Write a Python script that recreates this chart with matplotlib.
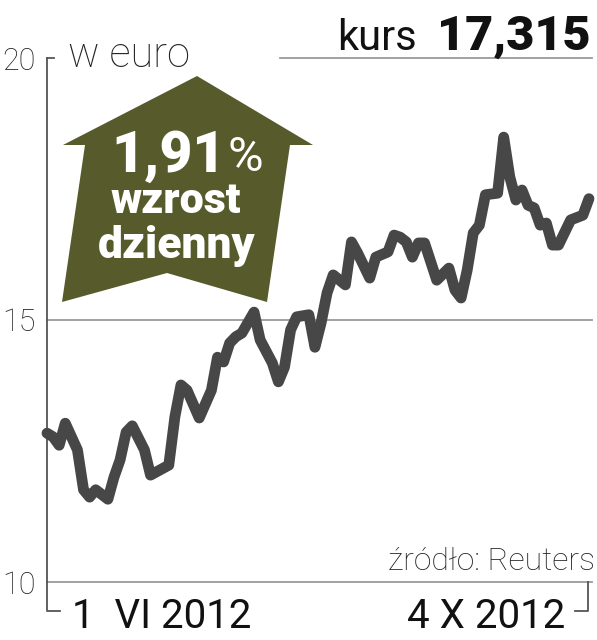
import matplotlib
matplotlib.use("Agg")
import matplotlib.pyplot as plt
from matplotlib import font_manager
from matplotlib.patches import Polygon

# notowania (dni sesyjne od 1 VI 2012 do 4 X 2012)
dni = [0, 1, 2, 3, 5, 6, 7, 8, 10, 11, 12, 13, 14, 16, 17, 20, 21, 22, 23, 25,
       27, 28, 29, 30, 31, 32, 34, 35, 37, 38, 39, 40, 41, 43, 44, 45, 46, 47,
       49, 50, 51, 53, 54, 56, 57, 58, 59, 60, 61, 62, 64, 66, 67, 68, 69, 70,
       71, 72, 74, 75, 76, 77, 78, 79, 80, 81, 82, 83, 84, 86, 88, 89]
kurs = [12.84, 12.77, 12.61, 13.03, 12.52, 11.76, 11.62, 11.76, 11.58, 12.00,
        12.33, 12.86, 12.98, 12.52, 12.04, 12.23, 13.15, 13.76, 13.66, 13.13,
        13.66, 14.29, 14.20, 14.56, 14.68, 14.75, 15.15, 14.62, 14.18, 13.82,
        14.10, 14.81, 15.06, 15.10, 14.48, 14.94, 15.52, 15.86, 15.67, 16.49,
        16.28, 15.80, 16.20, 16.30, 16.62, 16.58, 16.49, 16.20, 16.47, 16.47,
        15.76, 15.99, 15.57, 15.42, 15.95, 16.66, 16.81, 17.39, 17.42, 18.49,
        17.73, 17.29, 17.48, 17.19, 17.14, 16.81, 16.85, 16.43, 16.43, 16.91,
        17.00, 17.315]
y_ticks = [10, 15, 20]
y_labels = ["10", "15", "20"]
data_od = "1  VI 2012"
data_do = "4 X 2012"
kurs_txt = "17,315"
zmiana_txt = "1,91"

W, H = 597, 640
installed = {f.name for f in font_manager.fontManager.ttflist}


def pick(*names):
    for n in names:
        if n in installed:
            return n
    return "DejaVu Sans"


f_light = pick("Roboto", "Lato", "Open Sans")
f_bold = pick("Liberation Sans Narrow", "Roboto", "DejaVu Sans")


def px(x, y):
    return x / W, 1 - y / H


fig = plt.figure(figsize=(W / 100, H / 100), dpi=100)
ax = fig.add_axes([47 / W, 58 / H, 545 / W, 524 / H])
ax.set_xlim(0, 89.5)
ax.set_ylim(10, 20)

for s in ["top", "right", "bottom"]:
    ax.spines[s].set_visible(False)
ax.spines["left"].set_color("#555555")
ax.spines["left"].set_linewidth(1.3)

ax.set_xticks([])
ax.set_yticks(y_ticks)
ax.set_yticklabels(y_labels, fontsize=22, family=f_light, fontweight="light",
                   color="#222222")
ax.tick_params(axis="y", length=0, pad=8)

# linie siatki
gray = "#9a9a9a"
ax.axhline(10, color=gray, lw=1.3, clip_on=False)
ax.axhline(15, color=gray, lw=1.3, clip_on=False)
ax.axhline(20, xmin=(280 - 47) / 545, xmax=1, color=gray, lw=1.3, clip_on=False)
ax.axhline(20, xmin=0, xmax=0.012, color="#555555", lw=1.3, clip_on=False)

# nawiasy pod osią
ax.plot([0, 0, 0.024], [0, -0.055, -0.055], transform=ax.transAxes,
        color="#555555", lw=1.3, clip_on=False)
ax.plot([0.9927, 0.9927, 0.969], [0, -0.055, -0.055], transform=ax.transAxes,
        color="#555555", lw=1.3, clip_on=False)

ax.plot(dni, kurs, color="#474747", lw=7.8, solid_capstyle="round",
        solid_joinstyle="round", clip_on=False, zorder=3)

# strzałka "domek"
strzalka = [(197, 76), (313, 145), (290, 145), (267, 302), (167, 273),
            (62, 302), (85, 145), (63, 145)]
fig.patches.append(Polygon([px(x, y) for x, y in strzalka], closed=True,
                           transform=fig.transFigure, facecolor="#575b2b",
                           edgecolor="none", zorder=5))

fig.text(*px(226, 172), zmiana_txt, ha="right", va="baseline", fontsize=41,
         family=f_bold, fontweight="heavy", color="white", zorder=6)
fig.text(*px(227, 171), "%", ha="left", va="baseline", fontsize=35,
         family=f_light, color="white", zorder=6)
fig.text(*px(176, 213), "wzrost", ha="center", va="baseline", fontsize=31,
         family=f_bold, fontweight="heavy", color="white", zorder=6)
fig.text(*px(177, 258), "dzienny", ha="center", va="baseline", fontsize=32,
         family=f_bold, fontweight="heavy", color="white", zorder=6)

fig.text(*px(68, 67), "w euro", ha="left", va="baseline", fontsize=30,
         family=f_light, fontweight="light", color="#222222")
fig.text(*px(417, 50), "kurs", ha="right", va="baseline", fontsize=30,
         family=f_light, color="#111111")
fig.text(*px(591, 50), kurs_txt, ha="right", va="baseline", fontsize=35,
         family=f_bold, fontweight="heavy", color="#111111")
fig.text(*px(595, 570), "źródło: Reuters", ha="right", va="baseline",
         fontsize=23, family=f_light, fontweight="light", color="#222222")
fig.text(*px(72, 628), data_od, ha="left", va="baseline", fontsize=29,
         family=f_light, color="#111111")
fig.text(*px(565, 628), data_do, ha="right", va="baseline", fontsize=29,
         family=f_light, color="#111111")

fig.savefig("out.png", dpi=100, facecolor="white")
